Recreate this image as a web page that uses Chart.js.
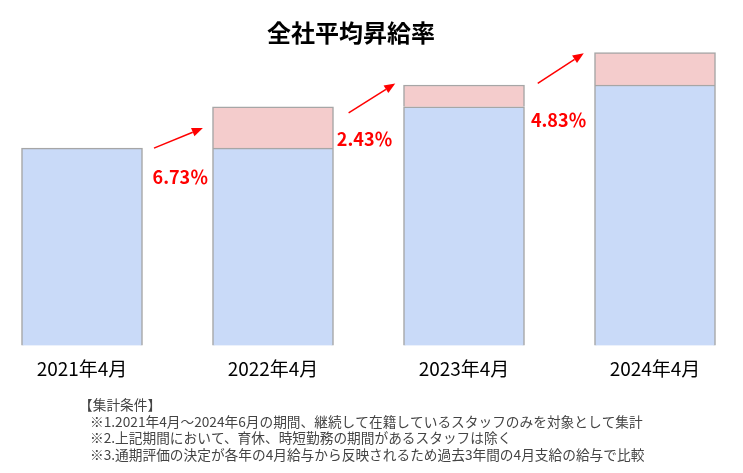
<!DOCTYPE html>
<html>
<head>
<meta charset="utf-8">
<script src="https://cdn.jsdelivr.net/npm/chart.js@4/dist/chart.umd.min.js"></script>
<style>
  html, body { margin: 0; padding: 0; background: #ffffff; }
  #wrap { width: 743px; height: 473px; }
</style>
</head>
<body>
<div id="wrap"><canvas id="c" width="743" height="473"></canvas></div>
<script>
// ---- data (index: 2021年4月 = 100) ----
const categories = ['2021年4月', '2022年4月', '2023年4月', '2024年4月'];
const baseValues = [100, 100, 121, 132];      // previous year's level
const raiseValues = [null, 21, 11, 16.5];     // increase over previous year
const raiseRates = [6.73, 2.43, 4.83];        // % shown between bars
const titleText = '全社平均昇給率';
const noteLines = [
  '【集計条件】',
  '※1.2021年4月～2024年6月の期間、継続して在籍しているスタッフのみを対象として集計',
  '※2.上記期間において、育休、時短勤務の期間があるスタッフは除く',
  '※3.通期評価の決定が各年の4月給与から反映されるため過去3年間の4月支給の給与で比較'
];

// ---- annotation placement, in scale units (category index, value) ----
const arrowPlacement = [
  { from: [0.377, 100.0], to: [0.633, 110.2], label: [0.515, 85.3] },
  { from: [1.396, 117.9], to: [1.640, 132.8], label: [1.480, 104.6] },
  { from: [2.386, 132.8], to: [2.627, 148.1], label: [2.496, 114.2] }
];

const FONT = "'Noto Sans CJK JP', 'Noto Sans', sans-serif";

const annotationPlugin = {
  id: 'growthArrows',
  afterDatasetsDraw(chart) {
    const ctx = chart.ctx;
    const xs = chart.scales.x, ys = chart.scales.y;
    ctx.save();
    arrowPlacement.forEach((p, i) => {
      const x1 = xs.getPixelForValue(p.from[0]), y1 = ys.getPixelForValue(p.from[1]);
      const x2 = xs.getPixelForValue(p.to[0]),   y2 = ys.getPixelForValue(p.to[1]);
      const ang = Math.atan2(y2 - y1, x2 - x1);
      const headLen = 11, headW = 4.5;
      const bx = x2 - headLen * Math.cos(ang), by = y2 - headLen * Math.sin(ang);
      ctx.strokeStyle = '#ff0000';
      ctx.fillStyle = '#ff0000';
      ctx.lineWidth = 1.5;
      ctx.beginPath();
      ctx.moveTo(x1, y1);
      ctx.lineTo(bx, by);
      ctx.stroke();
      ctx.beginPath();
      ctx.moveTo(x2, y2);
      ctx.lineTo(bx + headW * Math.sin(ang), by - headW * Math.cos(ang));
      ctx.lineTo(bx - headW * Math.sin(ang), by + headW * Math.cos(ang));
      ctx.closePath();
      ctx.fill();
      // label
      const lx = xs.getPixelForValue(p.label[0]), ly = ys.getPixelForValue(p.label[1]);
      ctx.font = 'bold 18px ' + FONT;
      ctx.textAlign = 'center';
      ctx.textBaseline = 'middle';
      ctx.fillText(raiseRates[i].toFixed(2) + '％', lx, ly);
    });
    ctx.restore();
  },
  afterDraw(chart) {
    const ctx = chart.ctx;
    ctx.save();
    // title
    ctx.font = 'bold 24px ' + FONT;
    ctx.fillStyle = '#000000';
    ctx.textAlign = 'center';
    ctx.textBaseline = 'middle';
    ctx.fillText(titleText, 351, 33);
    // notes
    ctx.font = '13.7px ' + FONT;
    ctx.fillStyle = '#444444';
    ctx.textAlign = 'left';
    ctx.textBaseline = 'middle';
    const ys = [405, 421.5, 438, 454.5];
    noteLines.forEach((t, i) => {
      ctx.fillText(t, i === 0 ? 79 : 90, ys[i]);
    });
    ctx.restore();
  }
};

new Chart(document.getElementById('c'), {
  type: 'bar',
  data: {
    labels: categories,
    datasets: [
      {
        label: '前年',
        data: baseValues,
        backgroundColor: '#c9daf8',
        borderColor: '#a6a6a6',
        borderWidth: 1.5,
        barThickness: 121,
        clip: false
      },
      {
        label: '昇給',
        data: raiseValues,
        backgroundColor: '#f4cccc',
        borderColor: '#a6a6a6',
        borderWidth: 1.5,
        barThickness: 121,
        clip: false
      }
    ]
  },
  options: {
    responsive: false,
    animation: false,
    layout: { padding: { left: 82, right: 88, top: 49.5, bottom: 81.6 } },
    plugins: {
      legend: { display: false },
      tooltip: { enabled: false },
      title: { display: false }
    },
    scales: {
      x: {
        stacked: true,
        offset: false,
        grid: { display: false, drawTicks: false },
        border: { display: false },
        ticks: {
          color: '#000000',
          font: { family: FONT, size: 19 },
          padding: 11.6,
          maxRotation: 0,
          autoSkip: false
        }
      },
      y: {
        stacked: true,
        display: false,
        min: 0,
        max: 150
      }
    }
  },
  plugins: [annotationPlugin]
});
</script>
</body>
</html>
